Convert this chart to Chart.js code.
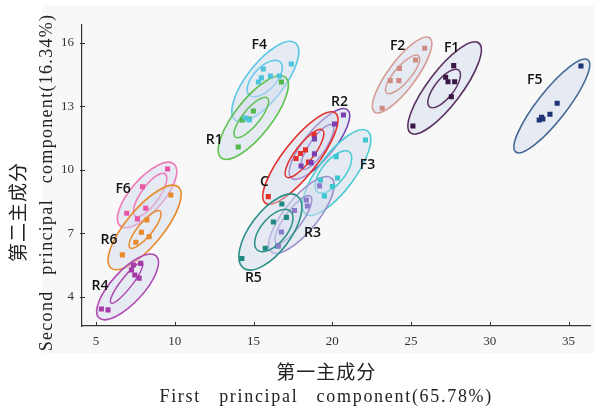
<!DOCTYPE html>
<html lang="zh">
<head>
<meta charset="UTF-8" />
<title>PCA score plot</title>
<script src="https://cdn.jsdelivr.net/npm/chart.js@4"></script>
<style>
  html, body { margin: 0; padding: 0; background: #fff; }
  #wrap { width: 594px; height: 409px; position: relative; }
</style>
</head>
<body>
<div id="wrap"><canvas id="pcaChart"></canvas></div>
<script>
// tick values
const xTicks = [5, 10, 15, 20, 25, 30, 35];
const yTicks = [4, 7, 10, 13, 16];

// group names, in drawing order
const groupNames = ["F4", "R1", "F2", "F1", "F5", "R2", "C", "F3", "R3", "R5", "F6", "R6", "R4"];

// sample scores (PC1, PC2) per group
const scoresF4 = [[17.40, 15.01], [15.62, 14.77], [16.07, 14.44], [15.50, 14.35], [15.31, 14.16], [16.64, 14.44], [14.73, 12.36], [14.48, 12.46]];
const scoresR1 = [[16.77, 14.16], [14.99, 12.79], [14.29, 12.36], [14.73, 12.41], [14.03, 11.09]];
const scoresF2 = [[25.87, 15.75], [25.29, 15.20], [24.27, 14.80], [23.68, 14.22], [24.23, 14.22], [23.17, 12.92]];
const scoresF1 = [[27.71, 14.93], [27.20, 14.38], [27.35, 14.17], [27.77, 14.17], [27.56, 13.46], [25.12, 12.08]];
const scoresF5 = [[35.79, 14.91], [34.28, 13.15], [33.82, 12.63], [33.29, 12.49], [33.14, 12.36], [33.37, 12.41]];
const scoresR2 = [[20.71, 12.60], [20.14, 12.17], [18.87, 11.47], [18.87, 10.76], [18.66, 10.35], [18.02, 10.19]];
const scoresC = [[18.84, 11.68], [18.30, 10.95], [17.98, 10.78], [17.70, 10.54], [18.49, 10.38], [15.94, 8.74]];
const scoresF3 = [[22.11, 11.42], [20.25, 10.63], [20.33, 9.62], [20.01, 9.22], [19.50, 8.77], [19.25, 9.53]];
const scoresR3 = [[19.19, 9.25], [18.36, 8.58], [17.60, 8.09], [16.77, 7.07], [16.58, 6.41], [18.42, 8.30]];
const scoresR5 = [[16.80, 8.39], [16.26, 7.54], [17.09, 7.76], [15.75, 6.30], [16.53, 6.41], [14.26, 5.82]];
const scoresF6 = [[9.54, 10.05], [7.95, 9.21], [8.16, 8.19], [6.95, 7.96], [7.63, 7.69]];
const scoresR6 = [[9.75, 8.82], [8.23, 7.64], [7.88, 7.06], [8.37, 6.85], [7.53, 6.59], [6.67, 5.99]];
const scoresR4 = [[7.84, 5.59], [7.37, 5.51], [7.46, 5.04], [7.74, 4.89], [7.25, 5.28], [5.34, 3.43], [5.76, 3.39]];
const groupScores = [scoresF4, scoresR1, scoresF2, scoresF1, scoresF5, scoresR2, scoresC, scoresF3, scoresR3, scoresR5, scoresF6, scoresR6, scoresR4];

// confidence ellipses: major axis end points [x1, y1, x2, y2] and minor/major ratio
const outerAxis = [[17.66, 16.00, 13.84, 12.36], [17.02, 14.39, 12.95, 10.57], [26.18, 16.24, 22.68, 12.74], [29.30, 16.00, 24.97, 11.75], [36.23, 15.20, 31.65, 10.85], [20.97, 12.84, 17.40, 9.62], [20.20, 12.69, 15.75, 8.44], [22.24, 11.84, 18.30, 7.92], [19.95, 9.62, 16.13, 6.13], [17.79, 8.77, 14.35, 5.37], [9.96, 10.28, 6.53, 7.36], [10.22, 9.20, 5.95, 5.37], [8.82, 5.94, 5.19, 3.01]];
const outerRatio = [0.38, 0.35, 0.3, 0.3, 0.25, 0.33, 0.3, 0.35, 0.35, 0.45, 0.4, 0.35, 0.38];
const innerAxis = [[16.70, 15.10, 14.73, 13.54], [15.88, 13.40, 13.84, 11.56], [25.48, 15.39, 23.45, 13.64], [28.03, 14.72, 26.18, 12.98], null, [20.01, 12.13, 18.10, 10.05], [19.38, 11.89, 17.09, 9.67], [21.09, 10.85, 19.06, 8.96], [18.61, 8.77, 16.45, 6.55], [17.34, 8.06, 15.24, 6.22], [9.39, 9.81, 7.48, 7.83], [9.07, 8.06, 7.16, 6.32], [7.93, 5.61, 5.95, 3.72]];
const innerRatio = [0.5, 0.33, 0.33, 0.4, 0, 0.3, 0.3, 0.45, 0.3, 0.5, 0.35, 0.3, 0.22];

// group label anchors
const labelPos = [[15.37, 15.91], [12.51, 11.42], [24.15, 15.86], [27.58, 15.76], [32.86, 14.25], [20.46, 13.21], [15.69, 9.43], [22.24, 10.24], [18.74, 7.03], [14.99, 4.90], [6.72, 9.10], [5.83, 6.69], [5.25, 4.52]];

const pointColors = ["#4ec3dd", "#52b848", "#cf8a82", "#3a1845", "#1e3476", "#7a3fb0", "#e3302b", "#3cc6cf", "#8a7cc8", "#1f8a80", "#ea54a4", "#e88a2a", "#a63aa8"];
const lineColors = ["#5cc8e6", "#5ec24e", "#d59d95", "#5a3262", "#456895", "#7a45b5", "#e3302b", "#48cbd3", "#9c90cf", "#2a8f86", "#ee78b8", "#e88a2a", "#b04ab2"];

const datasets = groupNames.map((name, i) => ({
  label: name,
  data: groupScores[i].map(p => ({ x: p[0], y: p[1] })),
  pointStyle: "rect",
  pointRadius: 3.6,
  pointHoverRadius: 3.6,
  backgroundColor: pointColors[i],
  borderWidth: 0,
}));

function ellipsePath(ctx, xs, ys, axis, ratio) {
  const x1 = xs.getPixelForValue(axis[0]), y1 = ys.getPixelForValue(axis[1]);
  const x2 = xs.getPixelForValue(axis[2]), y2 = ys.getPixelForValue(axis[3]);
  const a = Math.hypot(x2 - x1, y2 - y1) / 2;
  ctx.beginPath();
  ctx.ellipse((x1 + x2) / 2, (y1 + y2) / 2, a, a * ratio, Math.atan2(y2 - y1, x2 - x1), 0, Math.PI * 2);
}

const panelPlugin = {
  id: "panel",
  beforeDraw(chart) {
    const { ctx, chartArea, width } = chart;
    ctx.save();
    ctx.fillStyle = "#f8f8f8";
    ctx.fillRect(chartArea.left - 40, 5, width - chartArea.left + 40, chartArea.bottom + 22);
    ctx.restore();
  },
  // inward tick marks
  afterDraw(chart) {
    const { ctx, chartArea } = chart;
    const xs = chart.scales.x, ys = chart.scales.y;
    ctx.save();
    ctx.strokeStyle = "#333";
    ctx.lineWidth = 1;
    ctx.beginPath();
    xTicks.forEach(v => {
      const px = Math.round(xs.getPixelForValue(v)) + 0.5;
      ctx.moveTo(px, chartArea.bottom);
      ctx.lineTo(px, chartArea.bottom - 4);
    });
    yTicks.forEach(v => {
      const py = Math.round(ys.getPixelForValue(v)) + 0.5;
      ctx.moveTo(chartArea.left - 2, py);
      ctx.lineTo(chartArea.left + 3, py);
    });
    ctx.stroke();
    ctx.restore();
  },
};

const ellipsePlugin = {
  id: "ellipses",
  beforeDatasetsDraw(chart) {
    const { ctx } = chart;
    const xs = chart.scales.x, ys = chart.scales.y;
    ctx.save();
    groupNames.forEach((name, i) => {
      ellipsePath(ctx, xs, ys, outerAxis[i], outerRatio[i]);
      ctx.fillStyle = "rgba(212, 220, 238, 0.5)";
      ctx.fill();
      ctx.lineWidth = 1.6;
      ctx.strokeStyle = lineColors[i];
      ctx.stroke();
      if (innerAxis[i]) {
        ellipsePath(ctx, xs, ys, innerAxis[i], innerRatio[i]);
        ctx.lineWidth = 1.5;
        ctx.stroke();
      }
    });
    ctx.restore();
  },
  afterDatasetsDraw(chart) {
    const { ctx } = chart;
    const xs = chart.scales.x, ys = chart.scales.y;
    ctx.save();
    ctx.fillStyle = "#111";
    ctx.font = "600 14px 'Open Sans', 'Liberation Sans', sans-serif";
    ctx.textAlign = "center";
    ctx.textBaseline = "middle";
    groupNames.forEach((name, i) => {
      ctx.fillText(name, xs.getPixelForValue(labelPos[i][0]), ys.getPixelForValue(labelPos[i][1]));
    });
    ctx.restore();
  },
};

const titlePlugin = {
  id: "axisTitles",
  afterDraw(chart) {
    const { ctx, chartArea } = chart;
    const midX = (chartArea.left + chartArea.right) / 2 - 10;
    const midY = (chartArea.top + chartArea.bottom) / 2 + 7;
    ctx.save();
    ctx.fillStyle = "#222";
    ctx.textAlign = "center";
    ctx.textBaseline = "middle";
    ctx.font = "19px 'Noto Sans CJK SC'";
    ctx.letterSpacing = "1px";
    ctx.fillText("第一主成分", midX, 372);
    ctx.font = "18px 'Liberation Serif', serif";
    ctx.letterSpacing = "1.7px";
    ctx.wordSpacing = "12px";
    ctx.fillText("First principal component(65.78%)", midX, 397);
    ctx.letterSpacing = "1.3px";
    ctx.wordSpacing = "10px";
    ctx.translate(47, midY);
    ctx.rotate(-Math.PI / 2);
    ctx.fillText("Second principal component(16.34%)", 0, 0);
    ctx.restore();
    ctx.save();
    ctx.fillStyle = "#222";
    ctx.textAlign = "center";
    ctx.textBaseline = "middle";
    ctx.font = "19px 'Noto Sans CJK SC'";
    ctx.letterSpacing = "1px";
    ctx.translate(18, 212);
    ctx.rotate(-Math.PI / 2);
    ctx.fillText("第二主成分", 0, 0);
    ctx.restore();
  },
};

new Chart(document.getElementById("pcaChart"), {
  type: "scatter",
  data: { datasets },
  plugins: [panelPlugin, ellipsePlugin, titlePlugin],
  options: {
    responsive: true,
    maintainAspectRatio: false,
    animation: false,
    layout: { padding: { left: 0, right: 2, top: 25, bottom: 0 } },
    plugins: { legend: { display: false }, tooltip: { enabled: false } },
    scales: {
      x: {
        type: "linear",
        min: 4.11,
        max: 36.39,
        afterBuildTicks: (s) => { s.ticks = xTicks.map(v => ({ value: v })); },
        afterFit: (s) => { s.height = 83; },
        grid: { drawOnChartArea: false, drawTicks: false },
        border: { color: "#333", width: 1.2 },
        ticks: { color: "#333", padding: 8, font: { family: "'Liberation Serif', serif", size: 13 } },
      },
      y: {
        type: "linear",
        min: 2.63,
        max: 16.85,
        afterBuildTicks: (s) => { s.ticks = yTicks.map(v => ({ value: v })); },
        afterFit: (s) => { s.width = 82; },
        grid: { drawOnChartArea: false, drawTicks: false },
        border: { color: "#333", width: 1.2 },
        ticks: { color: "#333", padding: 8, font: { family: "'Liberation Serif', serif", size: 13 } },
      },
    },
  },
});
</script>
</body>
</html>
